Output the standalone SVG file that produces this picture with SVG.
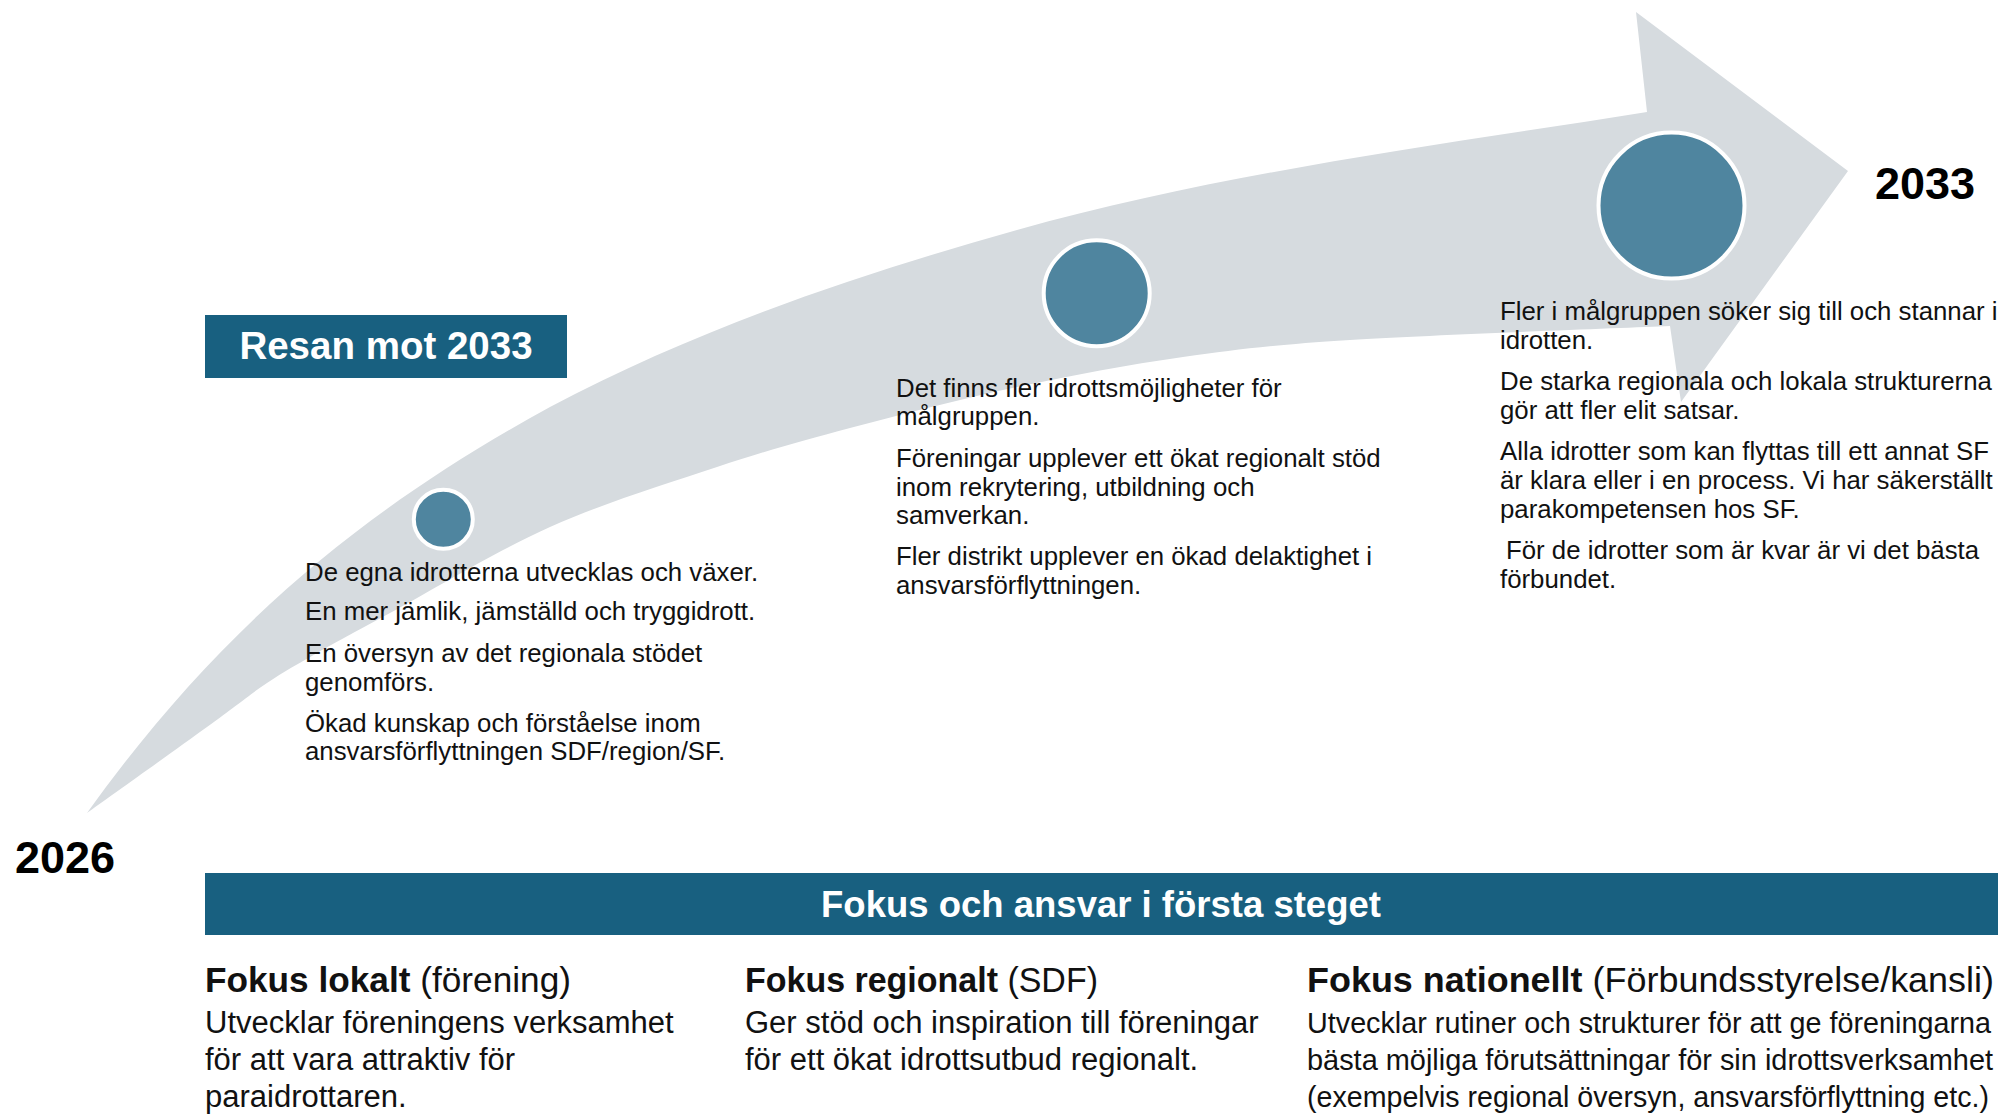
<svg xmlns="http://www.w3.org/2000/svg" width="1998" height="1115" viewBox="0 0 1998 1115">
<style>
text{font-family:"Liberation Sans",Arial,sans-serif;fill:#111}
.t{font-size:25.8px}
.bb{font-size:31px}
.bn{font-size:28.8px}
.h{font-size:35px}
.b{font-weight:bold}
.yr{font-size:45px;font-weight:bold;fill:#000}
.wt{fill:#fff;font-weight:bold}
.bar{fill:#186080}
.dot{fill:#4F859F;stroke:#fff;stroke-width:4}
</style>
<rect width="1998" height="1115" fill="#fff"/>
<g id="arrow">
<path fill="#D6DBDF" d="M87,813 C220.4,626.7 364.4,508.7 550,407 C697.6,328.8 856.2,275.1 1017,230 C1223,172.2 1435.8,145.8 1647,112 L1636,12 L1848,171 L1681,402 L1670,326 C1616.7,328.3 1431.2,334.8 1350,340 C1268.8,345.2 1238.5,349.2 1183,357 C1127.5,364.8 1072.5,375.2 1017,387 C961.5,398.8 900,414.7 850,428 C800,441.3 767,450.5 717,467 C667,483.5 604.5,502.7 550,527 C495.5,551.3 428.8,592 390,613 C351.2,634 337.5,641.3 317,653 C296.5,664.7 285.3,670.7 267,683 C248.7,695.3 237,705.3 207,727 C177,748.7 107,798.7 87,813 Z"/>
</g>
<g id="year-2026"><text class="yr" x="15" y="873">2026</text></g>
<g id="year-2033"><text class="yr" x="1875" y="199">2033</text></g>
<g id="title">
<rect class="bar" x="205" y="315" width="362" height="63"/>
<text class="wt" x="386" y="359" font-size="38.5" text-anchor="middle">Resan mot 2033</text>
</g>
<g id="milestone-1">
<circle class="dot" cx="443.3" cy="519.3" r="29.5"/>
<text class="t" x="305" y="580.5">De egna idrotterna utvecklas och växer.</text>
<text class="t" x="305" y="620">En mer jämlik, jämställd och tryggidrott.</text>
<text class="t" x="305" y="662">En översyn av det regionala stödet</text>
<text class="t" x="305" y="690.5">genomförs.</text>
<text class="t" x="305" y="731.5">Ökad kunskap och förståelse inom</text>
<text class="t" x="305" y="760">ansvarsförflyttningen SDF/region/SF.</text>
</g>
<g id="milestone-2">
<circle class="dot" cx="1096.7" cy="293.3" r="53"/>
<text class="t" x="896" y="396.7">Det finns fler idrottsmöjligheter för</text>
<text class="t" x="896" y="425">målgruppen.</text>
<text class="t" x="896" y="466.7">Föreningar upplever ett ökat regionalt stöd</text>
<text class="t" x="896" y="496">inom rekrytering, utbildning och</text>
<text class="t" x="896" y="524.3">samverkan.</text>
<text class="t" x="896" y="565">Fler distrikt upplever en ökad delaktighet i</text>
<text class="t" x="896" y="594">ansvarsförflyttningen.</text>
</g>
<g id="milestone-3">
<circle class="dot" cx="1671.5" cy="205.6" r="73"/>
<text class="t" x="1500" y="320">Fler i målgruppen söker sig till och stannar i</text>
<text class="t" x="1500" y="349">idrotten.</text>
<text class="t" x="1500" y="390">De starka regionala och lokala strukturerna</text>
<text class="t" x="1500" y="419">gör att fler elit satsar.</text>
<text class="t" x="1500" y="460">Alla idrotter som kan flyttas till ett annat SF</text>
<text class="t" x="1500" y="489">är klara eller i en process. Vi har säkerställt</text>
<text class="t" x="1500" y="517.5">parakompetensen hos SF.</text>
<text class="t" x="1506" y="559">För de idrotter som är kvar är vi det bästa</text>
<text class="t" x="1500" y="587.5">förbundet.</text>
</g>
<g id="focus-bar">
<rect class="bar" x="205" y="873" width="1793" height="62"/>
<text class="wt" x="1101" y="916.6" font-size="36.5" text-anchor="middle">Fokus och ansvar i första steget</text>
</g>
<g id="focus-local">
<text class="h" x="205" y="992" textLength="366" lengthAdjust="spacingAndGlyphs"><tspan class="b">Fokus lokalt</tspan> (förening)</text>
<text class="bb" x="205" y="1033">Utvecklar föreningens verksamhet</text>
<text class="bb" x="205" y="1070">för att vara attraktiv för</text>
<text class="bb" x="205" y="1107">paraidrottaren.</text>
</g>
<g id="focus-regional">
<text class="h" x="745" y="992" textLength="353" lengthAdjust="spacingAndGlyphs"><tspan class="b">Fokus regionalt</tspan> (SDF)</text>
<text class="bb" x="745" y="1033">Ger stöd och inspiration till föreningar</text>
<text class="bb" x="745" y="1070">för ett ökat idrottsutbud regionalt.</text>
</g>
<g id="focus-national">
<text class="h" x="1307" y="992" textLength="687" lengthAdjust="spacingAndGlyphs"><tspan class="b">Fokus nationellt</tspan> (Förbundsstyrelse/kansli)</text>
<text class="bn" x="1307" y="1033" textLength="684" lengthAdjust="spacingAndGlyphs">Utvecklar rutiner och strukturer för att ge föreningarna</text>
<text class="bn" x="1307" y="1070" textLength="686" lengthAdjust="spacingAndGlyphs">bästa möjliga förutsättningar för sin idrottsverksamhet</text>
<text class="bn" x="1307" y="1107" textLength="682" lengthAdjust="spacingAndGlyphs">(exempelvis regional översyn, ansvarsförflyttning etc.)</text>
</g>
</svg>
